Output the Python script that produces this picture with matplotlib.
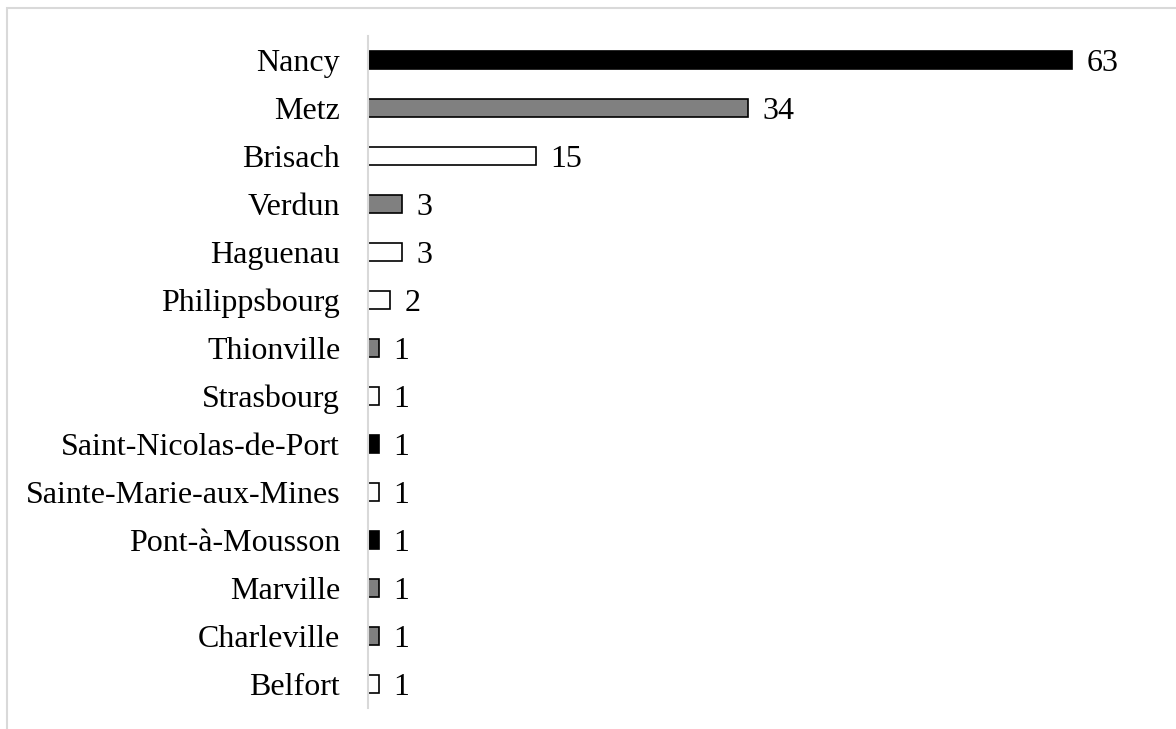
import matplotlib.pyplot as plt
from matplotlib.patches import Rectangle

cities = ["Nancy", "Metz", "Brisach", "Verdun", "Haguenau", "Philippsbourg",
          "Thionville", "Strasbourg", "Saint-Nicolas-de-Port",
          "Sainte-Marie-aux-Mines", "Pont-à-Mousson", "Marville",
          "Charleville", "Belfort"]
counts = [63, 34, 15, 3, 3, 2, 1, 1, 1, 1, 1, 1, 1, 1]
colors = ["black", "#808080", "white", "#808080", "white", "white",
          "#808080", "white", "black", "white", "black", "#808080",
          "#808080", "white"]

plt.rcParams['font.family'] = ['Liberation Serif', 'DejaVu Serif']

fig = plt.figure(figsize=(11.76, 7.29), dpi=100)
ax = fig.add_axes([368 / 1176, 21 / 729, 800 / 1176, 672 / 729])

y = list(range(len(cities)))
ax.barh(y, counts, height=0.38, color=colors, edgecolor="black", linewidth=1.2)
for yi, v in zip(y, counts):
    ax.text(v + 1.3, yi, str(v), va="center_baseline", ha="left", fontsize=23)

ax.set_yticks(y)
ax.set_yticklabels(cities, fontsize=23, va="center_baseline")
ax.set_ylim(len(cities) - 0.5, -0.5)
ax.set_xlim(0, 800 / (704 / 63))
ax.set_xticks([])
ax.tick_params(axis="y", length=0, pad=20)
for s in ["top", "right", "bottom"]:
    ax.spines[s].set_visible(False)
ax.spines["left"].set_color("#d9d9d9")
ax.spines["left"].set_linewidth(1.5)

# outer frame
fig.patches.append(Rectangle((7 / 1176, -0.01), 1.2, (729 - 8) / 729 + 0.01,
                             transform=fig.transFigure, fill=False,
                             edgecolor="#d9d9d9", linewidth=1.5))

fig.savefig("out.png", dpi=100)
